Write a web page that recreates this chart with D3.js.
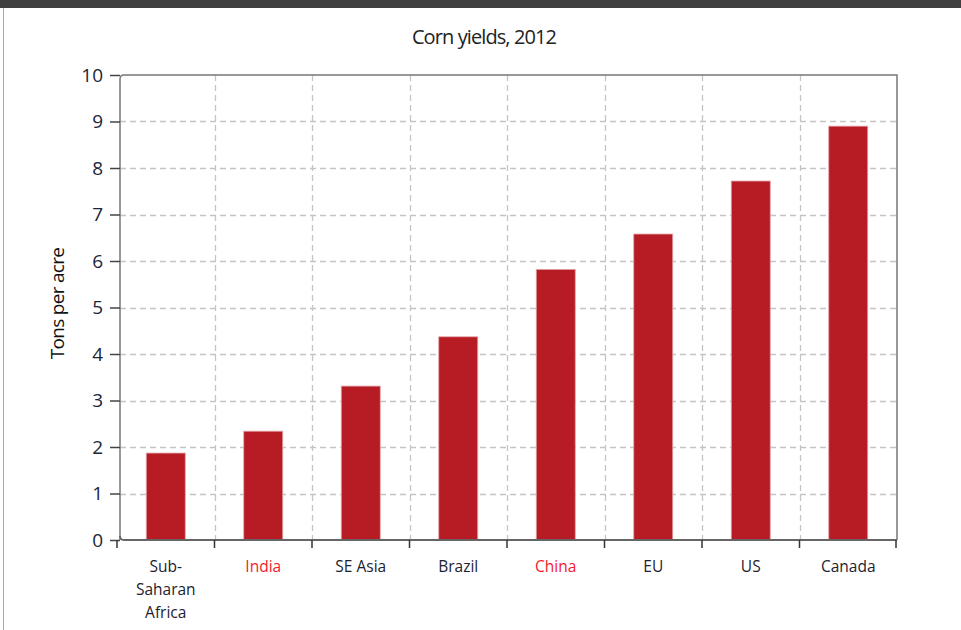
<!DOCTYPE html>
<html><head><meta charset="utf-8">
<script src="https://cdn.jsdelivr.net/npm/d3@7"></script>
<style>html,body{margin:0;padding:0;background:#fff;}svg{display:block;}</style>
</head><body>
<svg id="chart" width="961" height="630"></svg>
<script>
const categories = ["Sub-Saharan Africa", "India", "SE Asia", "Brazil", "China", "EU", "US", "Canada"];
const categoryLines = [["Sub-", "Saharan", "Africa"], ["India"], ["SE Asia"], ["Brazil"], ["China"], ["EU"], ["US"], ["Canada"]];
const highlighted = ["India", "China"];
const yields = [1.87, 2.34, 3.31, 4.37, 5.82, 6.58, 7.72, 8.90];
const yTicks = [0, 1, 2, 3, 4, 5, 6, 7, 8, 9, 10];
const title = "Corn yields, 2012";
const yLabel = "Tons per acre";

const svg = d3.select("#chart");
const W = 961, H = 630;
const m = {left: 120, right: 64, top: 75, bottom: 90};
const iw = W - m.left - m.right, ih = H - m.top - m.bottom;
const font = "'Open Sans', 'Noto Sans', sans-serif";

// top dark strip and left frame line
svg.append("rect").attr("x", 0).attr("y", 0).attr("width", W).attr("height", 8).attr("fill", "#404040");
svg.append("line").attr("x1", 3.5).attr("x2", 3.5).attr("y1", 8).attr("y2", H).attr("stroke", "#aaa").attr("stroke-width", 1);

const x = d3.scaleBand().domain(categories).range([-3, iw]).paddingInner(0.6).paddingOuter(0.3);
const y = d3.scaleLinear().domain([0, 10]).range([ih, 0]);

const g = svg.append("g").attr("transform", `translate(${m.left},${m.top})`);

// grid
const step = x.step();
const bounds = d3.range(1, categories.length).map(i => -3 + i * (iw + 3) / categories.length);
g.append("g").selectAll("line").data(yTicks.filter(t => t > 0 && t < 10)).join("line")
  .attr("x1", 0).attr("x2", iw).attr("y1", d => Math.round(y(d)) + 0.5).attr("y2", d => Math.round(y(d)) + 0.5)
  .attr("stroke", "#c4c4c4").attr("stroke-width", 1.3).attr("stroke-dasharray", "6,4");
g.append("g").selectAll("line").data(bounds).join("line")
  .attr("x1", d => Math.round(d) + 0.5).attr("x2", d => Math.round(d) + 0.5).attr("y1", 0).attr("y2", ih)
  .attr("stroke", "#c4c4c4").attr("stroke-width", 1.3).attr("stroke-dasharray", "6,4");

// bars
g.append("g").selectAll("rect").data(yields).join("rect")
  .attr("x", (d, i) => x(categories[i]))
  .attr("width", x.bandwidth())
  .attr("y", d => y(d))
  .attr("height", d => y(0) - y(d))
  .attr("fill", "#b71c24")
  .attr("stroke", "#e2a5a8").attr("stroke-width", 0.8);

// frame (top + right) and axes
g.append("path")
  .attr("d", `M0,${ih} L0,4 Q0,0 4,0 L${iw},0 L${iw},${ih}`)
  .attr("fill", "none").attr("stroke", "#777").attr("stroke-width", 1.5);
g.append("path")
  .attr("d", `M0,${ih - 4} Q0,${ih} 4,${ih} L${iw},${ih}`)
  .attr("fill", "none").attr("stroke", "#666").attr("stroke-width", 1.8);

// y axis
const yAxis = d3.axisLeft(y).tickValues(yTicks).tickSize(10).tickPadding(7).tickFormat(d3.format("d"));
const ya = g.append("g").call(yAxis);
ya.select(".domain").remove();
ya.selectAll(".tick line").attr("stroke", "#444").attr("stroke-width", 1.5);
ya.selectAll(".tick text").attr("font-family", font).attr("font-size", 19).attr("fill", "#1c2638");

// x axis ticks at band boundaries
const xt = [-3].concat(bounds).concat([iw - 1]);
g.append("g").selectAll("line").data(xt).join("line")
  .attr("x1", d => d).attr("x2", d => d)
  .attr("y1", ih).attr("y2", ih + 8).attr("stroke", "#333").attr("stroke-width", 1.5);

// x labels
const xl = g.append("g").selectAll("text").data(categories).join("text")
  .attr("x", (d) => x(d) + x.bandwidth() / 2)
  .attr("y", ih + 32)
  .attr("text-anchor", "middle")
  .attr("font-family", font).attr("font-size", 15.5)
  .attr("fill", d => highlighted.includes(d) ? "#f5192b" : "#1c2230");
xl.each(function(d, i) {
  d3.select(this).selectAll("tspan").data(categoryLines[i]).join("tspan")
    .attr("x", x(d) + x.bandwidth() / 2)
    .attr("dy", (t, j) => j === 0 ? 0 : 23)
    .text(t => t);
});

// title
svg.append("text").attr("x", 484).attr("y", 44).attr("text-anchor", "middle")
  .attr("font-family", font).attr("font-size", 20).attr("fill", "#222")
  .attr("letter-spacing", -0.9).text(title);

// y label
svg.append("text").attr("transform", `translate(64,${m.top + ih / 2 - 4}) rotate(-90)`)
  .attr("text-anchor", "middle").attr("font-family", font).attr("font-size", 19)
  .attr("fill", "#111").attr("letter-spacing", -0.7).text(yLabel);
</script>
</body></html>
